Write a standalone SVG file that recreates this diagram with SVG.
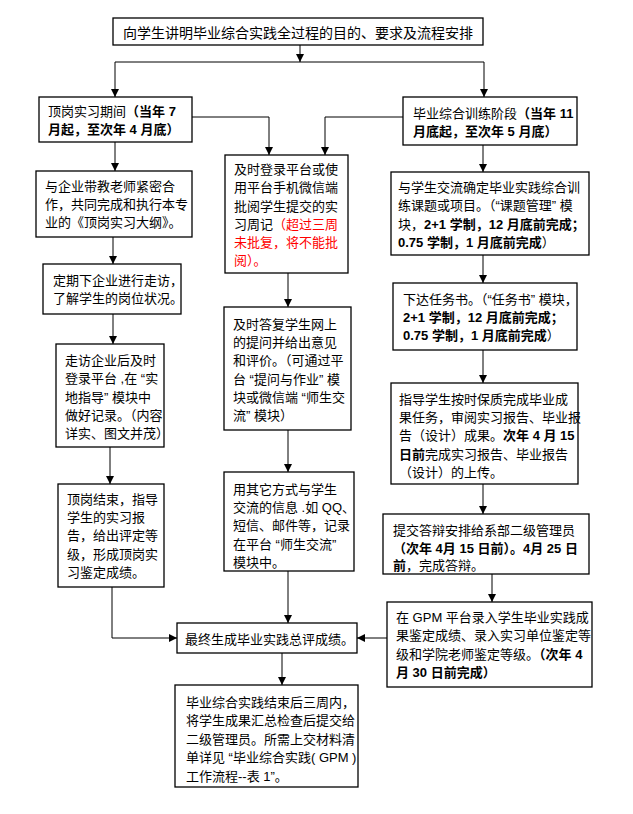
<svg xmlns="http://www.w3.org/2000/svg" width="633" height="814" viewBox="0 0 633 814">
<style>
.box{fill:#fff;stroke:#000;stroke-width:1.3}
.t{font-family:"Liberation Sans","Noto Sans CJK SC",sans-serif;font-size:13px;fill:#000}
.t14{font-size:14px}
.b{font-weight:bold}
.r{fill:#ff0000}
.c{fill:none;stroke:#000;stroke-width:1}
</style>
<defs>
<marker id="ah" markerUnits="userSpaceOnUse" markerWidth="9" markerHeight="9" refX="8" refY="4" orient="auto">
<path d="M0,0 L8,4 L0,8 z" fill="#000"/>
</marker>
</defs>
<rect width="633" height="814" fill="#fff"/>
<g id="connectors">
<path class="c" d="M300,45 V62" marker-end="url(#ah)"/>
<path class="c" d="M115,62 H484"/>
<path class="c" d="M115,62 V97" marker-end="url(#ah)"/>
<path class="c" d="M484,62 V97" marker-end="url(#ah)"/>
<path class="c" d="M192,117 H269 V155" marker-end="url(#ah)"/>
<path class="c" d="M403,117 H325 V155" marker-end="url(#ah)"/>
<path class="c" d="M115,142 V171" marker-end="url(#ah)"/>
<path class="c" d="M113,237 V264" marker-end="url(#ah)"/>
<path class="c" d="M113,314 V344" marker-end="url(#ah)"/>
<path class="c" d="M110,447 V484" marker-end="url(#ah)"/>
<path class="c" d="M112,587 V638 H177" marker-end="url(#ah)"/>
<path class="c" d="M288,273 V307" marker-end="url(#ah)"/>
<path class="c" d="M288,430 V472" marker-end="url(#ah)"/>
<path class="c" d="M288,571 V623" marker-end="url(#ah)"/>
<path class="c" d="M483,145 V172" marker-end="url(#ah)"/>
<path class="c" d="M483,255 V283" marker-end="url(#ah)"/>
<path class="c" d="M483,350 V383" marker-end="url(#ah)"/>
<path class="c" d="M483,484 V514" marker-end="url(#ah)"/>
<path class="c" d="M492,574 V602" marker-end="url(#ah)"/>
<path class="c" d="M387,638 H357" marker-end="url(#ah)"/>
<path class="c" d="M282,653 V685" marker-end="url(#ah)"/>
</g>
<g id="n-top">
<rect class="box" x="113" y="18" width="370" height="27"/>
<text class="t t14" x="298" y="38" text-anchor="middle">向学生讲明毕业综合实践全过程的目的、要求及流程安排</text>
</g>
<g id="n-dinggang">
<rect class="box" x="39" y="97" width="153" height="45"/>
<text class="t" x="48" y="116">顶岗实习期间<tspan class="b">（当年 7</tspan></text>
<text class="t b" x="48" y="134">月起，至次年 4 月底）</text>
</g>
<g id="n-qiye">
<rect class="box" x="36" y="171" width="156" height="66"/>
<text class="t" x="45" y="191">与企业带教老师紧密合</text>
<text class="t" x="45" y="209">作，共同完成和执行本专</text>
<text class="t" x="45" y="227">业的《顶岗实习大纲》。</text>
</g>
<g id="n-dingqi">
<rect class="box" x="43" y="264" width="138" height="50"/>
<text class="t" x="53" y="285">定期下企业进行走访，</text>
<text class="t" x="53" y="303">了解学生的岗位状况。</text>
</g>
<g id="n-zoufang">
<rect class="box" x="56" y="344" width="108" height="103"/>
<text class="t" x="65" y="365">走访企业后及时</text>
<text class="t" x="65" y="383">登录平台 ,在 “实</text>
<text class="t" x="65" y="402">地指导” 模块中</text>
<text class="t" x="65" y="420">做好记录。（内容</text>
<text class="t" x="65" y="438">详实、图文并茂）</text>
</g>
<g id="n-jieshu">
<rect class="box" x="58" y="484" width="106" height="103"/>
<text class="t" x="67" y="504">顶岗结束，指导</text>
<text class="t" x="67" y="522">学生的实习报</text>
<text class="t" x="67" y="540">告，给出评定等</text>
<text class="t" x="67" y="559">级，形成顶岗实</text>
<text class="t" x="67" y="577">习鉴定成绩。</text>
</g>
<g id="n-denglu">
<rect class="box" x="225" y="155" width="123" height="118"/>
<text class="t" x="234" y="174">及时登录平台或使</text>
<text class="t" x="234" y="192">用平台手机微信端</text>
<text class="t" x="234" y="211">批阅学生提交的实</text>
<text class="t" x="234" y="229">习周记<tspan class="r">（超过三周</tspan></text>
<text class="t r" x="234" y="247">未批复，将不能批</text>
<text class="t r" x="234" y="265">阅）。</text>
</g>
<g id="n-dafu">
<rect class="box" x="224" y="307" width="127" height="123"/>
<text class="t" x="233" y="329">及时答复学生网上</text>
<text class="t" x="233" y="347">的提问并给出意见</text>
<text class="t" x="233" y="365">和评价。（可通过平</text>
<text class="t" x="233" y="384">台 “提问与作业” 模</text>
<text class="t" x="233" y="402">块或微信端 “师生交</text>
<text class="t" x="233" y="420">流” 模块）</text>
</g>
<g id="n-qita">
<rect class="box" x="224" y="472" width="130" height="99"/>
<text class="t" x="233" y="494">用其它方式与学生</text>
<text class="t" x="233" y="512">交流的信息 .如 QQ、</text>
<text class="t" x="233" y="530">短信、邮件等，记录</text>
<text class="t" x="233" y="549">在平台 “师生交流”</text>
<text class="t" x="233" y="567">模块中。</text>
</g>
<g id="n-xunlian">
<rect class="box" x="403" y="97" width="174" height="48"/>
<text class="t" x="413" y="118">毕业综合训练阶段<tspan class="b">（当年 11</tspan></text>
<text class="t b" x="413" y="136">月底起，至次年 5 月底）</text>
</g>
<g id="n-keti">
<rect class="box" x="391" y="172" width="198" height="83"/>
<text class="t" x="398" y="192">与学生交流确定毕业实践综合训</text>
<text class="t" x="398" y="210">练课题或项目。（“课题管理” 模</text>
<text class="t" x="398" y="229">块，<tspan class="b">2+1 学制，12 月底前完成；</tspan></text>
<text class="t" x="398" y="247"><tspan class="b">0.75 学制，1 月底前完成</tspan>）</text>
</g>
<g id="n-renwu">
<rect class="box" x="393" y="283" width="184" height="67"/>
<text class="t" x="403" y="304">下达任务书。（“任务书” 模块，</text>
<text class="t b" x="403" y="322">2+1 学制，12 月底前完成；</text>
<text class="t" x="403" y="340"><tspan class="b">0.75 学制，1 月底前完成</tspan>）</text>
</g>
<g id="n-zhidao">
<rect class="box" x="391" y="383" width="187" height="101"/>
<text class="t" x="399" y="404">指导学生按时保质完成毕业成</text>
<text class="t" x="399" y="422">果任务，审阅实习报告、毕业报</text>
<text class="t" x="399" y="440">告（设计）成果。<tspan class="b">次年 4 月 15</tspan></text>
<text class="t" x="399" y="459"><tspan class="b">日前</tspan>完成实习报告、毕业报告</text>
<text class="t" x="399" y="477">（设计）的上传。</text>
</g>
<g id="n-dabian">
<rect class="box" x="383" y="514" width="206" height="60"/>
<text class="t" x="393" y="535">提交答辩安排给系部二级管理员</text>
<text class="t b" x="393" y="553">（次年 4月 15 日前）。4月 25 日</text>
<text class="t" x="393" y="570"><tspan class="b">前</tspan>，完成答辩。</text>
</g>
<g id="n-gpm">
<rect class="box" x="387" y="602" width="205" height="85"/>
<text class="t" x="396" y="622">在 GPM 平台录入学生毕业实践成</text>
<text class="t" x="396" y="640">果鉴定成绩、录入实习单位鉴定等</text>
<text class="t" x="396" y="659">级和学院老师鉴定等级。<tspan class="b">（次年 4</tspan></text>
<text class="t b" x="396" y="677">月 30 日前完成）</text>
</g>
<g id="n-zuizhong">
<rect class="box" x="177" y="623" width="180" height="30"/>
<text class="t" x="185" y="644">最终生成毕业实践总评成绩。</text>
</g>
<g id="n-jiaojie">
<rect class="box" x="175" y="685" width="183" height="102"/>
<text class="t" x="186" y="707">毕业综合实践结束后三周内，</text>
<text class="t" x="186" y="725">将学生成果汇总检查后提交给</text>
<text class="t" x="186" y="744">二级管理员。所需上交材料清</text>
<text class="t" x="186" y="762">单详见 “毕业综合实践( GPM )</text>
<text class="t" x="186" y="781">工作流程--表 1”。</text>
</g>
</svg>
